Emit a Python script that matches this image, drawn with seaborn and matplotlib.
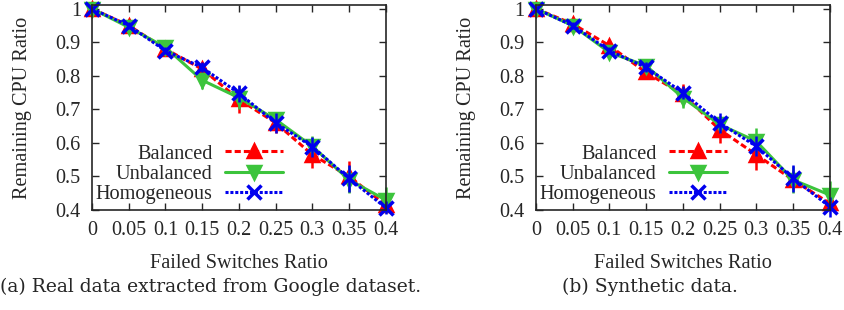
import pandas as pd
import seaborn as sns
import matplotlib.pyplot as plt

# Failed switches ratio (x axis)
ratio = [0, 0.05, 0.1, 0.15, 0.2, 0.25, 0.3, 0.35, 0.4]
tick_labels = ["0", "0.05", "0.1", "0.15", "0.2", "0.25", "0.3", "0.35", "0.4"]

# (a) Real data extracted from Google dataset
real_balanced = [1.0, 0.95, 0.88, 0.82, 0.73, 0.66, 0.565, 0.50, 0.415]
real_balanced_err = [0.005, 0.01, 0.015, 0.015, 0.04, 0.03, 0.04, 0.045, 0.01]
real_unbalanced = [1.0, 0.945, 0.885, 0.787, 0.735, 0.67, 0.59, 0.49, 0.43]
real_unbalanced_err = [0.005, 0.01, 0.01, 0.025, 0.035, 0.02, 0.03, 0.04, 0.04]
real_homogeneous = [1.0, 0.95, 0.875, 0.825, 0.748, 0.66, 0.589, 0.494, 0.407]
real_homogeneous_err = [0.005, 0.01, 0.01, 0.015, 0.025, 0.03, 0.03, 0.04, 0.02]

# (b) Synthetic data
syn_balanced = [1.0, 0.955, 0.89, 0.81, 0.745, 0.64, 0.565, 0.49, 0.42]
syn_balanced_err = [0.005, 0.01, 0.01, 0.02, 0.03, 0.04, 0.045, 0.03, 0.01]
syn_unbalanced = [1.0, 0.95, 0.87, 0.83, 0.735, 0.655, 0.605, 0.49, 0.445]
syn_unbalanced_err = [0.005, 0.01, 0.01, 0.015, 0.03, 0.02, 0.04, 0.04, 0.04]
syn_homogeneous = [1.0, 0.95, 0.875, 0.825, 0.75, 0.66, 0.59, 0.495, 0.41]
syn_homogeneous_err = [0.005, 0.01, 0.01, 0.015, 0.02, 0.03, 0.03, 0.04, 0.03]

series_names = ["Balanced", "Unbalanced", "Homogeneous"]
colors = ["#ff0000", "#3cc43c", "#0000ee"]
markers = ["^", "v", "x"]
dashes = [(2, 1), "", (1, 0.6)]

sns.set_style("ticks")
plt.rcParams["font.family"] = ["Liberation Serif", "DejaVu Serif"]
fs = 14.6

fig = plt.figure(figsize=(8.44, 3.10), dpi=100)
ax_a = fig.add_axes([0.109, 0.3226, 0.348, 0.661])
ax_b = fig.add_axes([0.635, 0.3226, 0.348, 0.661])

panels = [
    (ax_a, [real_balanced, real_unbalanced, real_homogeneous],
     [real_balanced_err, real_unbalanced_err, real_homogeneous_err]),
    (ax_b, [syn_balanced, syn_unbalanced, syn_homogeneous],
     [syn_balanced_err, syn_unbalanced_err, syn_homogeneous_err]),
]

for ax, values, errs in panels:
    for name, vals, err, c, m, d in zip(series_names, values, errs, colors, markers, dashes):
        df = pd.DataFrame({"ratio": ratio, "cpu": vals})
        ls = "-" if d == "" else (0, d)
        ax.errorbar(df["ratio"], df["cpu"], yerr=err, fmt="none", ecolor=c,
                    elinewidth=1.8, linestyle=ls, capsize=0, clip_on=False)
        sns.lineplot(data=df, x="ratio", y="cpu", ax=ax, color=c, marker=m,
                     markersize=9 if m != "x" else 10, markeredgewidth=2.5,
                     markeredgecolor=c, markerfacecolor=c,
                     linewidth=2.2, linestyle=ls, label=name, clip_on=False)
    ax.set_xlim(0, 0.4)
    ax.set_ylim(0.4, 1.011)
    ax.set_xticks(ratio)
    ax.set_xticklabels(tick_labels)
    ax.set_yticks([0.4, 0.5, 0.6, 0.7, 0.8, 0.9, 1.0])
    ax.set_yticklabels(["0.4", "0.5", "0.6", "0.7", "0.8", "0.9", "1"])
    ax.tick_params(direction="in", top=True, right=True, length=5, width=1,
                   labelsize=fs, pad=8)
    for s in ax.spines.values():
        s.set_linewidth(1.2)
    ax.set_xlabel("Failed Switches Ratio", fontsize=fs, labelpad=10)
    ax.set_ylabel("Remaining CPU Ratio", fontsize=fs, labelpad=17)
    ax.legend(loc="lower right", bbox_to_anchor=(0.677, -0.01), frameon=False,
              markerfirst=False, fontsize=fs, handlelength=2.85,
              handletextpad=0.6, labelspacing=0.05, borderaxespad=0)

fig.text(0.25, 0.073, "(a) Real data extracted from Google dataset.",
         ha="center", va="center", fontsize=13.5, family="DejaVu Serif")
fig.text(0.77, 0.073, "(b) Synthetic data.", ha="center", va="center",
         fontsize=13.5, family="DejaVu Serif")

fig.savefig("out.png", dpi=100)
